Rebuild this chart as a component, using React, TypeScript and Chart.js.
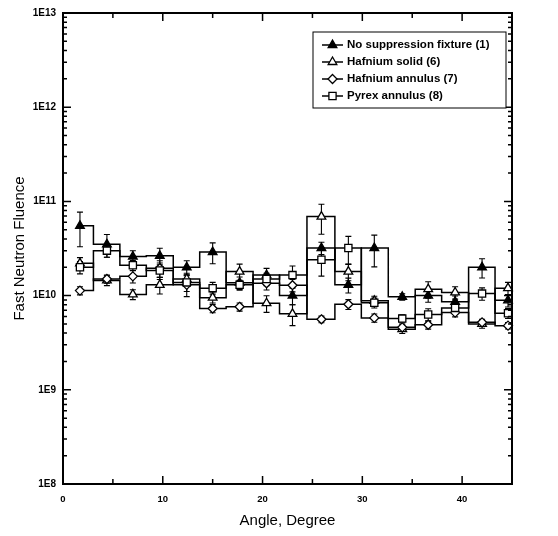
import React, { useEffect, useRef } from "react";
import { Chart, registerables } from "chart.js";

Chart.register(...registerables);

// ---- data ----
const angles = [1.7, 4.4, 7.0, 9.7, 12.4, 15.0, 17.7, 20.4, 23.0, 25.9, 28.6, 31.2, 34.0, 36.6, 39.3, 42.0, 44.6];

const noSuppression = [5.5e10, 3.5e10, 2.6e10, 2.65e10, 2.0e10, 2.9e10, 1.37e10, 1.65e10, 1.0e10, 3.2e10, 1.3e10, 3.2e10, 9.7e9, 1.0e10, 8.6e9, 2.0e10, 8.9e9];
const hafniumSolid = [2.2e10, 1.45e10, 1.03e10, 1.3e10, 1.5e10, 9.5e9, 1.8e10, 8.3e9, 6.4e9, 6.9e10, 1.8e10, 8.8e9, 4.4e9, 1.17e10, 1.08e10, 5.0e9, 1.2e10];
const hafniumAnnulus = [1.13e10, 1.5e10, 1.6e10, 1.95e10, 1.3e10, 7.3e9, 7.6e9, 1.35e10, 1.29e10, 5.6e9, 8.1e9, 5.8e9, 4.6e9, 4.9e9, 6.6e9, 5.2e9, 4.8e9];
const pyrexAnnulus = [2.0e10, 3.0e10, 2.1e10, 1.85e10, 1.38e10, 1.2e10, 1.3e10, 1.5e10, 1.65e10, 2.4e10, 3.2e10, 8.4e9, 5.7e9, 6.3e9, 7.4e9, 1.05e10, 6.5e9];

// relative (±) errors
const errNoSuppression = [0.4, 0.27, 0.15, 0.2, 0.17, 0.25, 0.15, 0.18, 0.2, 0.15, 0.18, 0.37, 0.08, 0.15, 0.15, 0.23, 0.15];
const errHafniumSolid = [0.15, 0.12, 0.12, 0.2, 0.15, 0.12, 0.2, 0.2, 0.25, 0.35, 0.2, 0.12, 0.1, 0.2, 0.15, 0.1, 0.15];
const errHafniumAnnulus = [0.1, 0.1, 0.15, 0.2, 0.25, 0.1, 0.1, 0.15, 0.15, 0.08, 0.12, 0.1, 0.08, 0.1, 0.1, 0.08, 0.08];
const errPyrexAnnulus = [0.15, 0.15, 0.12, 0.2, 0.2, 0.15, 0.12, 0.15, 0.25, 0.33, 0.33, 0.12, 0.1, 0.15, 0.15, 0.15, 0.12];

const seriesLabels = ["No suppression fixture (1)", "Hafnium solid (6)", "Hafnium annulus (7)", "Pyrex annulus (8)"];
const xTicks = [0, 10, 20, 30, 40];
const xMinorTicks = [5, 15, 25, 35];
const yDecades = [8, 9, 10, 11, 12, 13];

const FONT = "'Liberation Sans', Arial, sans-serif";

type Mk = "triangleFilled" | "triangle" | "diamond" | "square";
const markers: Mk[] = ["triangleFilled", "triangle", "diamond", "square"];
const seriesValues = [noSuppression, hafniumSolid, hafniumAnnulus, pyrexAnnulus];
const seriesErrors = [errNoSuppression, errHafniumSolid, errHafniumAnnulus, errPyrexAnnulus];

function drawMarker(ctx: CanvasRenderingContext2D, kind: Mk, x: number, y: number) {
  ctx.save();
  ctx.lineWidth = 1.3;
  ctx.strokeStyle = "#000";
  ctx.fillStyle = kind === "triangleFilled" ? "#000" : "#fff";
  ctx.beginPath();
  if (kind === "triangleFilled" || kind === "triangle") {
    const r = 5;
    ctx.moveTo(x, y - r);
    ctx.lineTo(x + r * 0.866, y + r * 0.5);
    ctx.lineTo(x - r * 0.866, y + r * 0.5);
    ctx.closePath();
  } else if (kind === "diamond") {
    const r = 4.5;
    ctx.moveTo(x, y - r);
    ctx.lineTo(x + r, y);
    ctx.lineTo(x, y + r);
    ctx.lineTo(x - r, y);
    ctx.closePath();
  } else {
    const s = 3.6;
    ctx.rect(x - s, y - s, 2 * s, 2 * s);
  }
  ctx.fill();
  ctx.stroke();
  ctx.restore();
}

const framePlugin = {
  id: "framePlugin",
  beforeDatasetsDraw(chart: any) {
    const ctx: CanvasRenderingContext2D = chart.ctx;
    const xs = chart.scales.x;
    const ys = chart.scales.y;
    ctx.save();
    ctx.strokeStyle = "#000";
    ctx.lineWidth = 1.1;
    seriesValues.forEach((vals, si) => {
      const errs = seriesErrors[si];
      vals.forEach((v, i) => {
        const x = xs.getPixelForValue(angles[i]);
        const yt = ys.getPixelForValue(v * (1 + errs[i]));
        const yb = ys.getPixelForValue(v * (1 - errs[i]));
        ctx.beginPath();
        ctx.moveTo(x, yt);
        ctx.lineTo(x, yb);
        ctx.moveTo(x - 3, yt);
        ctx.lineTo(x + 3, yt);
        ctx.moveTo(x - 3, yb);
        ctx.lineTo(x + 3, yb);
        ctx.stroke();
      });
    });
    ctx.restore();
  },
  afterDatasetsDraw(chart: any) {
    const ctx: CanvasRenderingContext2D = chart.ctx;
    const xs = chart.scales.x;
    const ys = chart.scales.y;
    seriesValues.forEach((vals, si) => {
      vals.forEach((v, i) => {
        drawMarker(ctx, markers[si], xs.getPixelForValue(angles[i]), ys.getPixelForValue(v));
      });
    });
  },
  afterDraw(chart: any) {
    const ctx: CanvasRenderingContext2D = chart.ctx;
    const { left, right, top, bottom } = chart.chartArea;
    const xs = chart.scales.x;
    const ys = chart.scales.y;
    ctx.save();
    ctx.strokeStyle = "#000";
    ctx.lineWidth = 2;
    ctx.strokeRect(left, top, right - left, bottom - top);
    ctx.lineWidth = 1.5;
    ctx.beginPath();
    xTicks.forEach((t) => {
      const x = xs.getPixelForValue(t);
      ctx.moveTo(x, bottom);
      ctx.lineTo(x, bottom - 8);
      ctx.moveTo(x, top);
      ctx.lineTo(x, top + 8);
    });
    xMinorTicks.forEach((t) => {
      const x = xs.getPixelForValue(t);
      ctx.moveTo(x, bottom);
      ctx.lineTo(x, bottom - 5);
      ctx.moveTo(x, top);
      ctx.lineTo(x, top + 5);
    });
    yDecades.forEach((d) => {
      const y = ys.getPixelForValue(Math.pow(10, d));
      ctx.moveTo(left, y);
      ctx.lineTo(left + 8, y);
      ctx.moveTo(right, y);
      ctx.lineTo(right - 8, y);
      if (d < 13) {
        for (let m = 2; m <= 9; m++) {
          const ym = ys.getPixelForValue(m * Math.pow(10, d));
          ctx.moveTo(left, ym);
          ctx.lineTo(left + 4, ym);
          ctx.moveTo(right, ym);
          ctx.lineTo(right - 4, ym);
        }
      }
    });
    ctx.stroke();

    // legend
    const bx = 313, by = 32, bw = 193, bh = 76;
    ctx.lineWidth = 1;
    ctx.fillStyle = "#fff";
    ctx.fillRect(bx, by, bw, bh);
    ctx.strokeRect(bx, by, bw, bh);
    ctx.font = `bold 11.5px ${FONT}`;
    ctx.textBaseline = "middle";
    seriesLabels.forEach((label, i) => {
      const y = by + 13 + i * 17;
      ctx.strokeStyle = "#000";
      ctx.lineWidth = 1.5;
      ctx.beginPath();
      ctx.moveTo(bx + 9, y);
      ctx.lineTo(bx + 30, y);
      ctx.stroke();
      drawMarker(ctx, markers[i], bx + 19.5, y);
      ctx.fillStyle = "#000";
      ctx.fillText(label, bx + 34, y);
    });
    ctx.restore();
  },
};

export default function App() {
  const ref = useRef<HTMLCanvasElement>(null);
  useEffect(() => {
    document.body.style.margin = "0";
    const canvas = ref.current!;
    const chart = new Chart(canvas, {
      type: "line",
      data: {
        datasets: seriesValues.map((vals, si) => ({
          label: seriesLabels[si],
          data: vals.map((v, i) => ({ x: angles[i], y: v })),
          stepped: "middle" as const,
          borderColor: "#000",
          borderWidth: 1.5,
          pointRadius: 0,
          fill: false,
        })),
      },
      options: {
        animation: false,
        responsive: false,
        devicePixelRatio: 1,
        layout: { padding: { left: 0, top: 11, right: 46, bottom: 0 } },
        plugins: { legend: { display: false }, tooltip: { enabled: false } },
        scales: {
          x: {
            type: "linear",
            min: 0,
            max: 45,
            grid: { display: false, drawTicks: false },
            border: { display: false },
            afterFit: (s: any) => {
              s.height = 52;
            },
            afterBuildTicks: (s: any) => {
              s.ticks = xTicks.map((v) => ({ value: v }));
            },
            ticks: {
              color: "#000",
              font: { family: FONT, weight: "bold", size: 9.5 },
              padding: 10,
              maxRotation: 0,
              callback: (v: any) => String(v),
            },
            title: {
              display: true,
              text: "Angle, Degree",
              color: "#000",
              font: { family: FONT, size: 15 },
              padding: { top: 0, bottom: 6 },
            },
          },
          y: {
            type: "logarithmic",
            min: 1e8,
            max: 1e13,
            grid: { display: false, drawTicks: false },
            border: { display: false },
            afterFit: (s: any) => {
              s.width = 63;
            },
            afterBuildTicks: (s: any) => {
              s.ticks = yDecades.map((d) => ({ value: Math.pow(10, d) }));
            },
            ticks: {
              color: "#000",
              font: { family: FONT, weight: "bold", size: 10 },
              padding: 7,
              autoSkip: false,
              callback: (v: any) => "1E" + Math.round(Math.log10(Number(v))),
            },
            title: {
              display: true,
              text: "Fast Neutron Fluence",
              color: "#000",
              font: { family: FONT, size: 15 },
              padding: { top: 11, bottom: 0 },
            },
          },
        },
      },
      plugins: [framePlugin],
    });
    return () => chart.destroy();
  }, []);
  return (
    <div style={{ width: 558, height: 536, background: "#fff" }}>
      <canvas ref={ref} width={558} height={536} style={{ display: "block" }} />
    </div>
  );
}
